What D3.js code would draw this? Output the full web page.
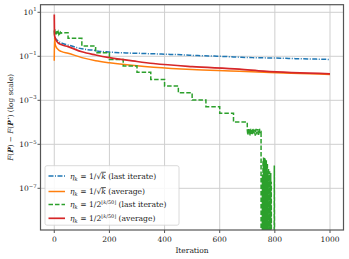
<!DOCTYPE html>
<html>
<head>
<meta charset="utf-8">
<script src="https://cdn.jsdelivr.net/npm/d3@7"></script>
<style>
  body { margin: 0; background: #fff; }
  svg { display: block; font-family: "DejaVu Serif", serif; }
</style>
</head>
<body>
<div id="chart"></div>
<script>
// ---- data ----
var xTicks = [0, 200, 400, 600, 800, 1000];
var yTickExps = [1, -1, -3, -5, -7];

// eta = 1/sqrt(k), last iterate (sampled every 20 iterations)
var blueK = [0, 20, 40, 60, 80, 100, 120, 140, 160, 180, 200, 220, 240, 260, 280, 300,
  320, 340, 360, 380, 400, 420, 440, 460, 480, 500, 520, 540, 560, 580, 600, 620, 640,
  660, 680, 700, 720, 740, 760, 780, 800, 820, 840, 860, 880, 900, 920, 940, 960, 980, 1000];
var blueV = [0.71, 0.44, 0.35, 0.30, 0.25, 0.22, 0.20, 0.19, 0.17, 0.163, 0.155, 0.150,
  0.146, 0.143, 0.139, 0.138, 0.134, 0.132, 0.130, 0.127, 0.124, 0.122, 0.120, 0.117,
  0.114, 0.110, 0.108, 0.106, 0.104, 0.102, 0.100, 0.098, 0.095, 0.093, 0.090, 0.088,
  0.087, 0.086, 0.085, 0.084, 0.083, 0.082, 0.081, 0.079, 0.078, 0.077, 0.076, 0.075,
  0.074, 0.073, 0.072];

// eta = 1/sqrt(k), average
var orangeK = [0, 1, 3, 6, 13, 25, 50, 100, 150, 200, 300, 360, 500, 671, 760, 1000];
var orangeV = [0.063, 0.71, 0.38, 0.28, 0.21, 0.166, 0.138, 0.087, 0.063, 0.051, 0.037,
  0.032, 0.025, 0.021, 0.0186, 0.015];

// eta = 1/2^floor(k/50), last iterate
var greenK = [0, 1, 2, 3, 4, 5, 6, 7, 8, 9, 10, 12, 14, 16, 18, 20, 22, 25, 30, 40, 50,
  50, 100, 100, 150, 150, 200, 200, 250, 250, 300, 300, 350, 350, 400, 400, 450, 450,
  500, 500, 550, 550, 600, 600, 650, 650, 700,
  700, 702, 704, 706, 708, 710, 712, 714, 716, 718, 720, 723, 726, 729, 732, 735, 738,
  741, 744, 747, 750, 750,
  754, 755, 756, 757, 758, 759, 760, 761, 762, 763, 764, 765, 766, 767, 768, 769, 770,
  771, 772, 773, 774, 775, 776, 777, 778, 779, 780, 781, 782, 783, 784, 785, 786, 787,
  788, 797, 798, 799, 1000];
var greenV = [1.5, 0.95, 1.7, 1.0, 1.45, 1.05, 1.4, 0.98, 1.35, 1.05, 1.4, 1.1, 1.3,
  1.05, 1.3, 1.1, 1.25, 1.12, 1.2, 1.17, 1.17,
  0.66, 0.66, 0.295, 0.295, 0.145, 0.145, 0.072, 0.072, 0.036, 0.036, 0.0186, 0.0186,
  0.0089, 0.0089, 0.0045, 0.0045, 0.0022, 0.0022, 0.00102, 0.00102, 0.00051, 0.00051,
  0.00026, 0.00026, 0.000102, 0.000102,
  4.5e-5, 2.6e-5, 5.2e-5, 2.8e-5, 4.8e-5, 2.5e-5, 5.0e-5, 3.0e-5, 4.6e-5, 2.6e-5,
  5.3e-5, 2.9e-5, 4.7e-5, 2.5e-5, 5.0e-5, 2.8e-5, 4.9e-5, 2.7e-5, 5.1e-5, 3.0e-5,
  3.4e-5, 1e-12,
  1e-12, 4e-7, 1e-12, 1.8e-6, 1e-12, 2.5e-6, 1e-12, 1.5e-6, 1e-12, 2.4e-6, 1e-12,
  2.1e-6, 1e-12, 1.2e-6, 1e-12, 1.9e-6, 1e-12, 9e-7, 1e-12, 1.4e-6, 1e-12, 6e-7, 1e-12,
  8e-7, 1e-12, 4e-7, 1e-12, 6e-7, 1e-12, 3e-7, 1e-12, 5e-7, 1e-12, 2e-7, 1e-12,
  1e-12, 1.1e-6, 1e-12, 1e-12];

// eta = 1/2^floor(k/50), average
var redK = [0, 1, 3, 6, 13, 25, 50, 100, 150, 200, 300, 360, 500, 671, 760, 1000];
var redV = [7.9, 0.89, 0.71, 0.56, 0.42, 0.34, 0.275, 0.16, 0.115, 0.087, 0.058, 0.047,
  0.034, 0.026, 0.021, 0.016];

var W = 349, H = 259;
var m = { left: 40.5, right: 343.5, top: 4.7, bottom: 230 };

var svg = d3.select("#chart").append("svg")
    .attr("width", W)
    .attr("height", H);

var x = d3.scaleLinear().domain([-49.95, 1048.95]).range([m.left, m.right]);
var y = d3.scaleLog().domain([Math.pow(10, -8.895), Math.pow(10, 1.345)])
    .range([m.bottom, m.top]);

svg.append("defs").append("clipPath").attr("id", "plot")
  .append("rect")
    .attr("x", m.left).attr("y", m.top)
    .attr("width", m.right - m.left).attr("height", m.bottom - m.top);

// grid
var grid = svg.append("g");
grid.selectAll("line.gx").data(xTicks).enter().append("line")
    .attr("x1", function(d) { return x(d); }).attr("x2", function(d) { return x(d); })
    .attr("y1", m.top).attr("y2", m.bottom)
    .attr("stroke", "#cfcfcf").attr("stroke-width", 1);
grid.selectAll("line.gy").data(yTickExps).enter().append("line")
    .attr("y1", function(d) { return y(Math.pow(10, d)); })
    .attr("y2", function(d) { return y(Math.pow(10, d)); })
    .attr("x1", m.left).attr("x2", m.right)
    .attr("stroke", "#cfcfcf").attr("stroke-width", 1);

// series
function pts(ks, vs) { return ks.map(function(k, i) { return [k, vs[i]]; }); }

var series = [
  { data: pts(blueK, blueV), color: "#1f77b4", dash: "5,1.5,1,1.5", w: 1.5, curve: d3.curveMonotoneX },
  { data: pts(orangeK, orangeV), color: "#ff7f0e", dash: null, w: 1.5, curve: d3.curveMonotoneX },
  { data: pts(greenK, greenV), color: "#2ca02c", dash: "4.5,2", w: 1.5, curve: d3.curveLinear },
  { data: pts(redK, redV), color: "#d62728", dash: null, w: 1.7, curve: d3.curveMonotoneX }
];

var plot = svg.append("g").attr("clip-path", "url(#plot)");
series.forEach(function(s) {
  var line = d3.line()
      .x(function(d) { return x(d[0]); })
      .y(function(d) { return y(d[1]); })
      .curve(s.curve);
  plot.append("path")
      .datum(s.data)
      .attr("d", line)
      .attr("fill", "none")
      .attr("stroke", s.color)
      .attr("stroke-width", s.w)
      .attr("stroke-dasharray", s.dash);
});

// frame
svg.append("rect")
    .attr("x", m.left).attr("y", m.top)
    .attr("width", m.right - m.left).attr("height", m.bottom - m.top)
    .attr("fill", "none").attr("stroke", "#555").attr("stroke-width", 1.2);

// x axis ticks and labels
var xa = svg.append("g");
xa.selectAll("line").data(xTicks).enter().append("line")
    .attr("x1", function(d) { return x(d); }).attr("x2", function(d) { return x(d); })
    .attr("y1", m.bottom).attr("y2", m.bottom + 3)
    .attr("stroke", "#555");
xa.selectAll("text").data(xTicks).enter().append("text")
    .attr("x", function(d) { return x(d); })
    .attr("y", 242)
    .attr("text-anchor", "middle")
    .attr("font-size", 7.5)
    .attr("fill", "#222")
    .text(function(d) { return d; });
svg.append("text")
    .attr("x", (m.left + m.right) / 2).attr("y", 252.5)
    .attr("text-anchor", "middle").attr("font-size", 7.5).attr("fill", "#222")
    .text("Iteration");

// y axis ticks and labels
var ya = svg.append("g");
ya.selectAll("line").data(yTickExps).enter().append("line")
    .attr("y1", function(d) { return y(Math.pow(10, d)); })
    .attr("y2", function(d) { return y(Math.pow(10, d)); })
    .attr("x1", m.left - 3).attr("x2", m.left)
    .attr("stroke", "#555");
var yl = ya.selectAll("text").data(yTickExps).enter().append("text")
    .attr("x", 36.5)
    .attr("y", function(d) { return y(Math.pow(10, d)) + 3; })
    .attr("text-anchor", "end")
    .attr("font-size", 7.5)
    .attr("fill", "#222");
yl.append("tspan").text("10");
yl.append("tspan")
    .attr("font-size", 5.3)
    .attr("dy", -3.8)
    .text(function(d) { return d < 0 ? "\u2212" + (-d) : d; });

// y label
var ylab = svg.append("text")
    .attr("transform", "translate(13," + ((m.top + m.bottom) / 2) + ") rotate(-90)")
    .attr("text-anchor", "middle")
    .attr("font-size", 7.3)
    .attr("fill", "#222");
ylab.append("tspan").attr("font-style", "italic").text("F");
ylab.append("tspan").text("(");
ylab.append("tspan").attr("font-style", "italic").attr("font-weight", "bold").text("P");
ylab.append("tspan").text(") \u2212 ");
ylab.append("tspan").attr("font-style", "italic").text("F");
ylab.append("tspan").text("(");
ylab.append("tspan").attr("font-style", "italic").attr("font-weight", "bold").text("P");
ylab.append("tspan").attr("font-size", 5).attr("dy", -3).text("\u22c6");
ylab.append("tspan").attr("dy", 3).text(") (log scale)");

// legend
var legend = svg.append("g");
legend.append("rect")
    .attr("x", 45).attr("y", 165.7)
    .attr("width", 134).attr("height", 59.5)
    .attr("rx", 2)
    .attr("fill", "#fff").attr("fill-opacity", 0.85)
    .attr("stroke", "#d0d0d0").attr("stroke-width", 0.8);

var legendRows = [176, 191.5, 204.5, 218.3];
var legendSqrt = [true, true, false, false];
var legendTail = ["(last iterate)", "(average)", "(last iterate)", "(average)"];

series.forEach(function(s, i) {
  var ry = legendRows[i];
  legend.append("line")
      .attr("x1", 48.5).attr("x2", 65)
      .attr("y1", ry).attr("y2", ry)
      .attr("stroke", s.color).attr("stroke-width", s.w)
      .attr("stroke-dasharray", s.dash);
  var t = legend.append("text")
      .attr("x", 70).attr("y", ry + 2.8)
      .attr("font-size", 7.6).attr("fill", "#222");
  t.append("tspan").attr("font-style", "italic").text("\u03b7");
  t.append("tspan").attr("font-style", "italic").attr("font-size", 5.3).attr("dy", 1.8).text("k");
  t.append("tspan").attr("dy", -1.8).text(" = 1/");
  if (legendSqrt[i]) {
    t.append("tspan").text("\u221a");
    t.append("tspan").attr("font-style", "italic").attr("text-decoration", "overline").text("k");
    t.append("tspan").text(" " + legendTail[i]);
  } else {
    t.append("tspan").text("2");
    t.append("tspan").attr("font-size", 5).attr("dy", -3.5).text("\u230a");
    t.append("tspan").attr("font-size", 5).attr("font-style", "italic").text("k");
    t.append("tspan").attr("font-size", 5).text("/50\u230b");
    t.append("tspan").attr("dy", 3.5).text(" " + legendTail[i]);
  }
});
</script>
</body>
</html>
